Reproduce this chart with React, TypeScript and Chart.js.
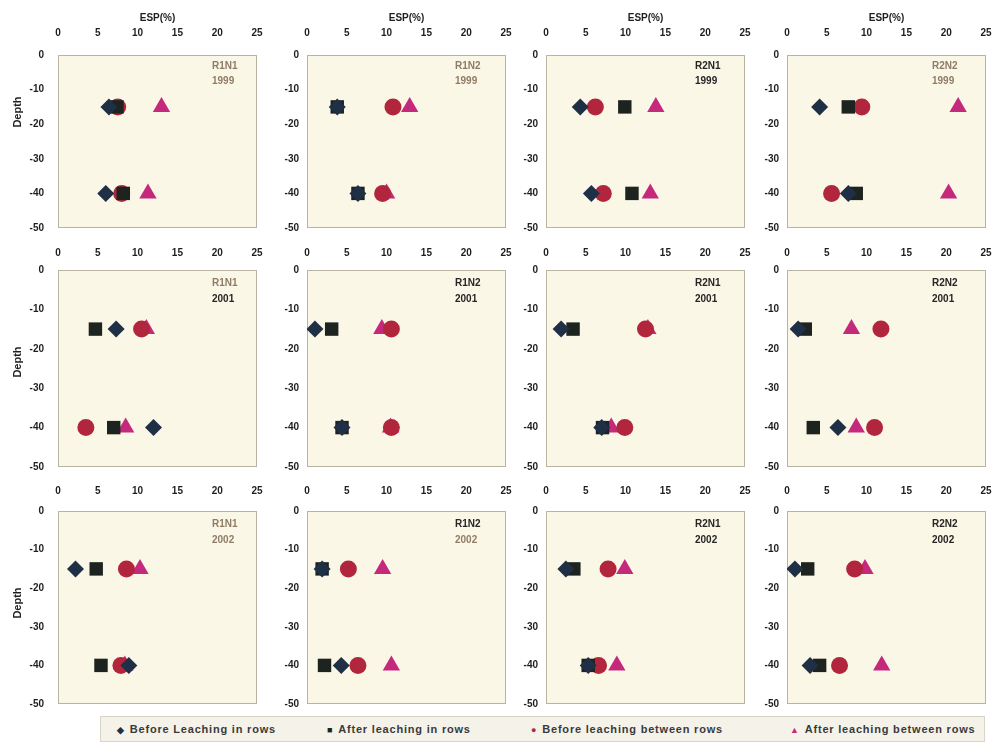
import React, { useEffect, useRef } from "react";
import { Chart, registerables } from "chart.js";

Chart.register(...registerables);

// ---------- data ----------
const TREATMENTS = ["R1N1", "R1N2", "R2N1", "R2N2"];
const YEARS = ["1999", "2001", "2002"];
const DEPTHS = [-15, -40];
const ESP_TICKS = [0, 5, 10, 15, 20, 25];
const DEPTH_TICKS = [0, -10, -20, -30, -40, -50];
const X_TITLE = "ESP(%)";
const Y_TITLE = "Depth";
const SERIES_NAMES = [
  "Before Leaching in rows",
  "After leaching in rows",
  "Before leaching between rows",
  "After leaching between rows",
];

// ESP (%) values: [year][treatment] -> [value at -15, value at -40]
const beforeLeachingInRows = [
  [[6.4, 6.0], [3.8, 6.4], [4.3, 5.7], [4.1, 7.7]],
  [[7.3, 12.0], [1.0, 4.4], [1.9, 7.0], [1.4, 6.4]],
  [[2.2, 8.9], [1.9, 4.3], [2.5, 5.3], [1.0, 2.9]],
];
const afterLeachingInRows = [
  [[7.4, 8.2], [3.8, 6.4], [9.9, 10.8], [7.7, 8.7]],
  [[4.7, 7.0], [3.1, 4.4], [3.4, 7.1], [2.3, 3.3]],
  [[4.8, 5.4], [1.9, 2.2], [3.5, 5.3], [2.6, 4.1]],
];
const beforeLeachingBetweenRows = [
  [[7.5, 8.0], [10.8, 9.5], [6.2, 7.2], [9.4, 5.6]],
  [[10.5, 3.5], [10.6, 10.6], [12.5, 9.9], [11.8, 11.0]],
  [[8.6, 7.9], [5.2, 6.4], [7.8, 6.6], [8.5, 6.6]],
];
const afterLeachingBetweenRows = [
  [[13.0, 11.3], [12.9, 10.0], [13.8, 13.1], [21.5, 20.3]],
  [[11.1, 8.5], [9.4, 10.5], [12.8, 8.2], [8.1, 8.7]],
  [[10.3, 8.4], [9.5, 10.6], [9.9, 8.9], [9.8, 11.9]],
];

// ---------- styles / layout ----------
const FONT = '"Liberation Sans", Arial, sans-serif';
const SERIES_STYLE = [
  { pointStyle: "rectRot", color: "#1f2f45", radius: 8.5, legendChar: "\u25C6", legendColor: "#1f2f45" },
  { pointStyle: "rect", color: "#1d231f", radius: 9.5, legendChar: "\u25A0", legendColor: "#1d231f" },
  { pointStyle: "circle", color: "#b1263d", radius: 8.5, legendChar: "\u25CF", legendColor: "#b1263d" },
  { pointStyle: "triangle", color: "#c4297c", radius: 10, legendChar: "\u25B2", legendColor: "#c4297c" },
];
const PLOT_BG = "#fbf7e6";
const FRAME = "#b9b4a2";
const TICK_COLOR = "#1e1e1e";
const ROW_ZERO_Y = [55, 270, 511];
const ROW_PLOT_H = [173, 197, 193];
const ROW_AXIS_H = [55, 30, 32];
const ROW_TICK_PAD = [16, 11, 14];
const ROW_DEPTH_TITLE_Y = [112, 362, 603];
const ROW_LABEL_DY = [[11, 26], [13, 29], [13, 29]];
const COL_PLOT_X = [58, 307, 546, 787];
const COL_LABEL_DX = [154, 148, 149, 145];
const PLOT_W = 199;
const COL_AXIS_W = [58, 40, 40, 40];
const COL_TICK_PAD = [14, 8, 8, 8];
const FAINT = "#8f7c66";
const DARK = "#262626";
const NAME_COLORS = [
  [FAINT, FAINT, DARK, FAINT],
  [FAINT, DARK, DARK, DARK],
  [FAINT, DARK, DARK, DARK],
];
const YEAR_COLORS = [
  [FAINT, FAINT, DARK, FAINT],
  [DARK, DARK, DARK, DARK],
  [FAINT, FAINT, DARK, DARK],
];
const LEGEND_X = [116, 326, 530, 789];

function Panel({ r, c }: { r: number; c: number }) {
  const ref = useRef<HTMLCanvasElement>(null);
  const padR = ROW_TICK_PAD[r] + 9;
  const padB = COL_TICK_PAD[c] + 9;
  const w = COL_AXIS_W[c] + PLOT_W + padR;
  const h = ROW_AXIS_H[r] + ROW_PLOT_H[r] + padB;
  const canvasTop = ROW_ZERO_Y[r] - ROW_AXIS_H[r];

  useEffect(() => {
    if (!ref.current) return;
    const series = [
      beforeLeachingInRows,
      afterLeachingInRows,
      beforeLeachingBetweenRows,
      afterLeachingBetweenRows,
    ];
    const datasets = series.map((s, i) => ({
      label: SERIES_NAMES[i],
      data: DEPTHS.map((d, k) => ({ x: s[r][c][k], y: d })),
      pointStyle: SERIES_STYLE[i].pointStyle as any,
      pointRadius: SERIES_STYLE[i].radius,
      pointHoverRadius: SERIES_STYLE[i].radius,
      backgroundColor: SERIES_STYLE[i].color,
      borderColor: SERIES_STYLE[i].color,
      borderWidth: 0,
      showLine: false,
    }));

    const panelPlugin = {
      id: "panelFrame",
      beforeDraw(chart: any) {
        const { ctx, chartArea: a } = chart;
        ctx.save();
        ctx.fillStyle = PLOT_BG;
        ctx.fillRect(a.left, a.top, a.right - a.left, a.bottom - a.top);
        ctx.strokeStyle = FRAME;
        ctx.lineWidth = 1;
        ctx.strokeRect(
          Math.round(a.left) + 0.5,
          Math.round(a.top) + 0.5,
          Math.round(a.right - a.left) - 1,
          Math.round(a.bottom - a.top) - 1
        );
        ctx.restore();
      },
      afterDatasetsDraw(chart: any) {
        const { ctx, chartArea: a } = chart;
        ctx.save();
        ctx.font = `bold 10px ${FONT}`;
        ctx.textAlign = "left";
        ctx.textBaseline = "middle";
        ctx.fillStyle = NAME_COLORS[r][c];
        ctx.fillText(TREATMENTS[c], a.left + COL_LABEL_DX[c], a.top + ROW_LABEL_DY[r][0]);
        ctx.fillStyle = YEAR_COLORS[r][c];
        ctx.fillText(YEARS[r], a.left + COL_LABEL_DX[c], a.top + ROW_LABEL_DY[r][1]);
        if (c === 0) {
          ctx.translate(18, ROW_DEPTH_TITLE_Y[r] - canvasTop);
          ctx.rotate(-Math.PI / 2);
          ctx.font = `bold 11px ${FONT}`;
          ctx.textAlign = "center";
          ctx.fillStyle = TICK_COLOR;
          ctx.fillText(Y_TITLE, 0, 0);
        }
        ctx.restore();
      },
    };

    const chart = new Chart(ref.current, {
      type: "scatter",
      data: { datasets },
      options: {
        responsive: false,
        animation: false,
        events: [],
        layout: { padding: { left: 0, top: 0, right: padR, bottom: padB } },
        plugins: { legend: { display: false }, tooltip: { enabled: false } },
        scales: {
          x: {
            type: "linear",
            position: "top",
            min: ESP_TICKS[0],
            max: ESP_TICKS[ESP_TICKS.length - 1],
            afterBuildTicks: (s: any) => {
              s.ticks = ESP_TICKS.map((v) => ({ value: v }));
            },
            afterFit: (s: any) => {
              s.height = ROW_AXIS_H[r];
            },
            grid: { display: false, drawTicks: false },
            border: { display: false },
            ticks: {
              padding: ROW_TICK_PAD[r],
              color: TICK_COLOR,
              font: { family: FONT, size: 10, weight: "bold" },
              maxRotation: 0,
              autoSkip: false,
            },
            title: {
              display: r === 0,
              text: X_TITLE,
              color: TICK_COLOR,
              font: { family: FONT, size: 10, weight: "bold" },
              padding: { top: 12, bottom: 0 },
            },
          },
          y: {
            type: "linear",
            min: DEPTH_TICKS[DEPTH_TICKS.length - 1],
            max: DEPTH_TICKS[0],
            afterBuildTicks: (s: any) => {
              s.ticks = DEPTH_TICKS.slice().reverse().map((v) => ({ value: v }));
            },
            afterFit: (s: any) => {
              s.width = COL_AXIS_W[c];
            },
            grid: { display: false, drawTicks: false },
            border: { display: false },
            ticks: {
              padding: COL_TICK_PAD[c],
              color: TICK_COLOR,
              font: { family: FONT, size: 10, weight: "bold" },
              autoSkip: false,
            },
            title: { display: false },
          },
        },
      } as any,
      plugins: [panelPlugin],
    });
    return () => chart.destroy();
  }, [r, c]);

  return (
    <canvas
      ref={ref}
      width={w}
      height={h}
      style={{
        position: "absolute",
        left: COL_PLOT_X[c] - COL_AXIS_W[c],
        top: canvasTop,
        width: w,
        height: h,
        display: "block",
      }}
    />
  );
}

export default function App() {
  return (
    <div
      style={{
        position: "absolute",
        left: 0,
        top: 0,
        width: 997,
        height: 748,
        background: "#ffffff",
        overflow: "hidden",
      }}
    >
      {YEARS.map((_, r) =>
        TREATMENTS.map((__, c) => <Panel key={`${r}-${c}`} r={r} c={c} />)
      )}
      <div
        style={{
          position: "absolute",
          left: 100,
          top: 716,
          width: 885,
          height: 26,
          background: "#f4f2e9",
          border: "1px solid #d9d5c6",
          boxSizing: "border-box",
        }}
      >
        {SERIES_NAMES.map((name, i) => (
          <div
            key={name}
            style={{
              position: "absolute",
              left: LEGEND_X[i] - 100,
              top: 6,
              whiteSpace: "nowrap",
              fontFamily: FONT,
              fontWeight: "bold",
              fontSize: 11,
              letterSpacing: 0.8,
              color: "#3a3a3a",
              lineHeight: "13px",
            }}
          >
            <span style={{ color: SERIES_STYLE[i].legendColor, fontSize: 9, marginRight: 5 }}>
              {SERIES_STYLE[i].legendChar}
            </span>
            {name}
          </div>
        ))}
      </div>
    </div>
  );
}
